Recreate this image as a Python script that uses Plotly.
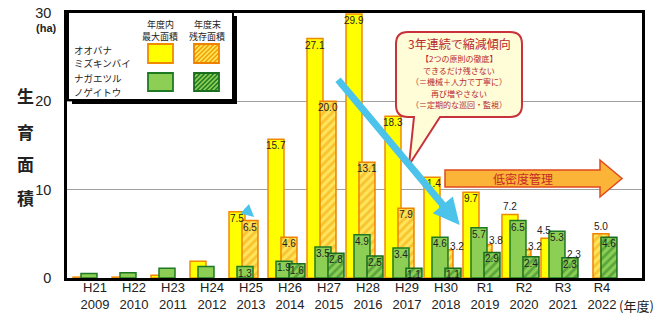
import plotly.graph_objects as go

# ---------------- data ----------------
years_jp = ["H21", "H22", "H23", "H24", "H25", "H26", "H27", "H28", "H29", "H30", "R1", "R2", "R3", "R4"]
years_ad = ["2009", "2010", "2011", "2012", "2013", "2014", "2015", "2016", "2017", "2018", "2019", "2020", "2021", "2022"]
oobana_max = [0.1, 0.1, 0.3, 1.9, 7.5, 15.7, 27.1, 29.9, 18.3, 11.4, 9.7, 7.2, 4.5, None]
oobana_end = [None, None, None, None, 6.5, 4.6, 20.0, 13.1, 7.9, 3.2, 3.8, 3.2, 2.3, 5.0]
nagae_max = [0.5, 0.6, 1.1, 1.3, 1.3, 1.9, 3.5, 4.9, 3.4, 4.6, 5.7, 6.5, 5.3, None]
nagae_end = [None, None, None, None, None, 1.6, 2.8, 2.5, 1.1, 1.1, 2.9, 2.4, 2.3, 4.6]
labelled_from = "H25"
y_ticks = [0, 10, 20, 30]

FONT = "Noto Sans CJK JP"
NUMFONT = "Liberation Sans"
cats = [f"{a}<br>{b}" for a, b in zip(years_jp, years_ad)]
start = years_jp.index(labelled_from)

# plot-area pixel geometry (for decorations only)
W, H = 660, 315
PL, PR, PT, PB = 67, 642, 13, 278


def px(x):
    return (x - PL) / (PR - PL)


def py(y):
    return (PB - y) / (PB - PT)


BW = 0.41
OFF_YM, OFF_YE, OFF_GM, OFF_GE = -0.564, -0.231, -0.359, -0.026

fig = go.Figure()
series = [
    ("オオバナミズキンバイ 年度内最大面積", oobana_max, OFF_YM,
     dict(color="#FFFF00", line=dict(color="#F08A00", width=1.5))),
    ("オオバナミズキンバイ 年度末残存面積", oobana_end, OFF_YE,
     dict(color="#FFE066", line=dict(color="#EE8200", width=1.5),
          pattern=dict(shape="/", fgcolor="#F2A100", bgcolor="#FFE45C", size=6, solidity=0.45))),
    ("ナガエツルノゲイトウ 年度内最大面積", nagae_max, OFF_GM,
     dict(color="#8DCF55", line=dict(color="#1E7A22", width=1.5))),
    ("ナガエツルノゲイトウ 年度末残存面積", nagae_end, OFF_GE,
     dict(color="#8DCF55", line=dict(color="#1A6E1E", width=1.5),
          pattern=dict(shape="/", fgcolor="#237A25", bgcolor="#8DCF55", size=6, solidity=0.45))),
]
for name, vals, off, marker in series:
    fig.add_trace(go.Bar(
        x=cats, y=vals, name=name, offset=off, width=BW, marker=marker,
        showlegend=False,
    ))

shapes = []
annotations = []


# ---------------- value labels (annotations tied to the data axes) ----------------
def vlabel(i, v, x, xanchor="center", yanchor="top", yshift=1):
    annotations.append(dict(xref="x", yref="y", x=x, y=v, text=f"{v:.1f}", showarrow=False,
                            xanchor=xanchor, yanchor=yanchor, yshift=yshift,
                            font=dict(size=10, color="#222222", family=NUMFONT)))


for i in range(start, len(years_jp)):
    ym, ye, gm, ge = oobana_max[i], oobana_end[i], nagae_max[i], nagae_end[i]
    if ym is not None:
        if gm is not None and gm > ym:
            vlabel(i, ym, i + OFF_YM + BW / 2 + 0.1, xanchor="right", yanchor="bottom", yshift=0)
        elif gm is not None and ym - gm < 1.5:
            vlabel(i, ym, i + OFF_YM + BW / 2, yanchor="bottom", yshift=0)
        else:
            vlabel(i, ym, i + OFF_YM + BW / 2)
    if ye is not None:
        if gm is not None and gm > ye:
            vlabel(i, ye, i + OFF_GM + BW, xanchor="left", yanchor="bottom", yshift=-4)
        elif ge is not None and ye - ge < 1.5:
            vlabel(i, ye, i + OFF_YE + BW / 2, yanchor="bottom", yshift=0)
        else:
            vlabel(i, ye, i + OFF_YE + BW / 2)
    if gm is not None:
        vlabel(i, gm, i + OFF_GM + BW / 2)
    if ge is not None:
        vlabel(i, ge, i + OFF_GE + BW / 2)

# ---------------- custom legend box ----------------
lx0, ly0, lx1, ly1 = 68, 12, 233, 100
shapes.append(dict(type="rect", xref="paper", yref="paper",
                   x0=px(lx0 + 4), x1=px(lx1 + 4), y0=py(ly1 + 4), y1=py(ly0 + 4),
                   fillcolor="#000000", line=dict(width=0)))
shapes.append(dict(type="rect", xref="paper", yref="paper",
                   x0=px(lx0), x1=px(lx1), y0=py(ly1), y1=py(ly0),
                   fillcolor="#FFFFFF", line=dict(color="#000000", width=2)))


def hatch_path(x0, y0, x1, y1, step):
    w, h = x1 - x0, y1 - y0
    parts = []
    k = -h + step / 2
    while k < w:
        v0 = max(0, -k)
        v1 = min(h, w - k)
        if v1 > v0:
            parts.append(f"M{px(x0 + k + v0):.5f},{py(y1 - v0):.5f}L{px(x0 + k + v1):.5f},{py(y1 - v1):.5f}")
        k += step
    return "".join(parts)


def swatch(x0, y0, x1, y1, fill, border, hatch=None):
    shapes.append(dict(type="rect", xref="paper", yref="paper",
                       x0=px(x0), x1=px(x1), y0=py(y1), y1=py(y0),
                       fillcolor=fill, line=dict(width=0)))
    if hatch:
        shapes.append(dict(type="path", xref="paper", yref="paper",
                           path=hatch_path(x0, y0, x1, y1, 4.5),
                           line=dict(color=hatch, width=1.6)))
    shapes.append(dict(type="rect", xref="paper", yref="paper",
                       x0=px(x0), x1=px(x1), y0=py(y1), y1=py(y0),
                       fillcolor="rgba(0,0,0,0)", line=dict(color=border, width=1.8)))


swatch(148, 44, 173, 63, "#FFFF00", "#F08A00")
swatch(194, 44, 219, 63, "#FFE45C", "#EE8200", "#F2A100")
swatch(148, 73, 173, 91, "#8DCF55", "#1E7A22")
swatch(194, 73, 219, 91, "#8DCF55", "#1A6E1E", "#237A25")


def txt(x, y, s, size=10, color="#222222", xanchor="center", bold=False, family=FONT):
    annotations.append(dict(xref="paper", yref="paper", x=px(x), y=py(y), text=(f"<b>{s}</b>" if bold else s),
                            showarrow=False, xanchor=xanchor, yanchor="middle",
                            font=dict(size=size, color=color, family=family)))


txt(160, 24, "年度内", size=9)
txt(160, 36.5, "最大面積", size=9)
txt(207, 24, "年度末", size=9)
txt(207, 36.5, "残存面積", size=9)
txt(72, 50, "オオバナ", size=9.5, xanchor="left")
txt(72, 63, "ミズキンバイ", size=9.5, xanchor="left")
txt(72, 78.5, "ナガエツル", size=9.5, xanchor="left")
txt(72, 91.5, "ノゲイトウ", size=9.5, xanchor="left")

# ---------------- axis labels ----------------
txt(46, 28, "(ha)", size=11, bold=True, family=NUMFONT)
for ch, yy in zip("生育面積", [95, 131, 163, 197]):
    txt(25, yy, ch, size=17, bold=True)
txt(617, 305, "(年度)", size=13, xanchor="left")

# ---------------- callout bubble ----------------
bx0, by0, bx1, by1, r = 396, 32, 522, 117, 12


def P(x, y):
    return f"{px(x):.5f},{py(y):.5f}"


bubble = (f"M{P(bx0 + r, by0)}L{P(bx1 - r, by0)}Q{P(bx1, by0)} {P(bx1, by0 + r)}"
          f"L{P(bx1, by1 - r)}Q{P(bx1, by1)} {P(bx1 - r, by1)}"
          f"L{P(440, by1)}L{P(409, 165)}L{P(414, by1)}"
          f"L{P(bx0 + r, by1)}Q{P(bx0, by1)} {P(bx0, by1 - r)}"
          f"L{P(bx0, by0 + r)}Q{P(bx0, by0)} {P(bx0 + r, by0)}Z")
shapes.append(dict(type="path", xref="paper", yref="paper", path=bubble,
                   fillcolor="#FFFCD8", line=dict(color="#C8323A", width=2)))
cx = (bx0 + bx1) / 2
txt(cx, 44, "3年連続で縮減傾向", size=12, color="#B8282E")
bubble_lines = ["【2つの原則の徹底】", "できるだけ残さない", "（＝機械＋人力で丁寧に）",
                "再び増やさない", "（＝定期的な巡回・監視）"]
for k, s in enumerate(bubble_lines):
    txt(cx, 58.5 + 11.6 * k, s, size=8, color="#B8282E")

# ---------------- low-density arrow ----------------
arrow = (f"M{P(445, 170)}L{P(600, 170)}L{P(600, 160)}L{P(622, 178.5)}"
         f"L{P(600, 197)}L{P(600, 187)}L{P(445, 187)}Z")
shapes.append(dict(type="path", xref="paper", yref="paper", path=arrow,
                   fillcolor="#FBB338", line=dict(color="#E04A1E", width=1.5)))
txt(523, 178.5, "低密度管理", size=12, color="#C8282A")

# ---------------- blue trend arrows ----------------
annotations.append(dict(xref="x", yref="y", axref="x", ayref="y", x=9.35, y=6.0, ax=6.2, ay=22.6,
                        text="", showarrow=True, arrowhead=2, arrowsize=0.75, arrowwidth=7,
                        arrowcolor="#4CC3EA", standoff=0))
annotations.append(dict(xref="x", yref="y", axref="x", ayref="y", x=4.08, y=6.9, ax=3.8, ay=8.0,
                        text="", showarrow=True, arrowhead=2, arrowsize=1, arrowwidth=2.5,
                        arrowcolor="#4CC3EA", standoff=0))

fig.update_layout(
    width=W, height=H,
    margin=dict(l=PL, r=W - PR, t=PT, b=H - PB),
    paper_bgcolor="#FFFFFF", plot_bgcolor="#FFFFFF",
    barmode="overlay",
    font=dict(family=FONT, color="#222222"),
    shapes=shapes, annotations=annotations,
    xaxis=dict(range=[-0.718, 14.026], showgrid=False, showline=True, linewidth=2.5, linecolor="#000000",
               mirror=True, ticks="", automargin=False, ticklabelstandoff=-4,
               tickfont=dict(size=13, color="#222222", family=NUMFONT)),
    yaxis=dict(range=[0, 30], tickvals=y_ticks, showgrid=True, gridcolor="#A0A0A0", gridwidth=1,
               showline=True, linewidth=2.5, linecolor="#000000", mirror=True, ticks="",
               ticklabelstandoff=10, zeroline=False, automargin=False,
               tickfont=dict(size=14.5, color="#222222", family=NUMFONT)),
)

# the page's default 8px body margin would shift the figure; remove it
fig.write_html("out.html", config={"displayModeBar": False},
               post_script="document.body.style.margin='0px';")
